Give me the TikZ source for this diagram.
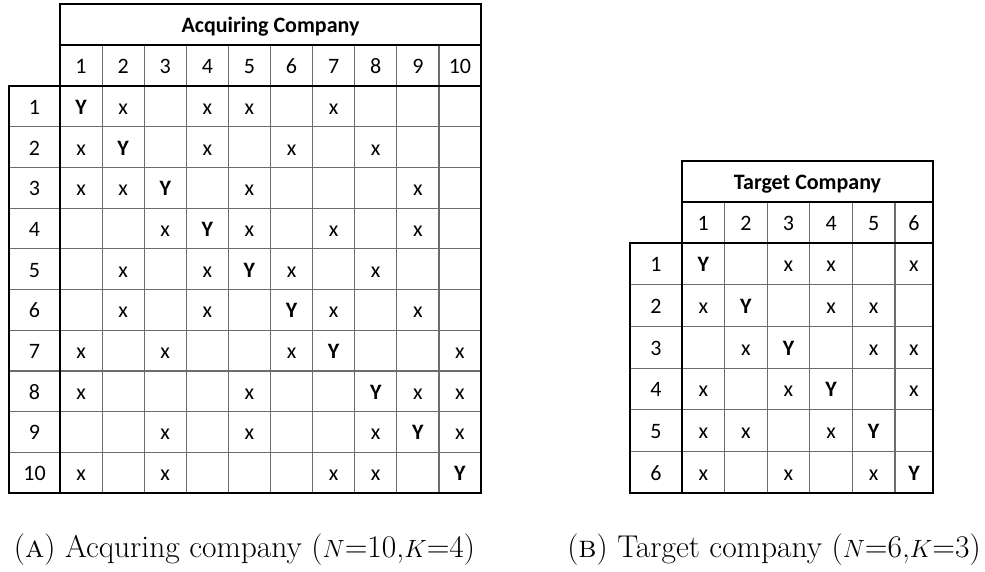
\documentclass[tikz,border=0pt]{standalone}
\usepackage{fontspec}
\newfontfamily\tabfont{Carlito}

\begin{document}
\begin{tikzpicture}[x=1pt,y=-1pt,
    rule/.style={line width=2.2pt,line cap=rect},
    gridline/.style={draw=gray!85!black,line width=1.2pt},
    entry/.style={font=\tabfont\fontsize{22}{22}\selectfont,inner sep=0pt,anchor=base},
    headcell/.style={entry,font=\tabfont\bfseries\fontsize{22}{22}\selectfont},
    ycell/.style={headcell},
    xcell/.style={entry},
    caption/.style={font=\fontsize{31.5}{31.5}\selectfont,inner sep=0pt,anchor=base}]
  \useasboundingbox (0,0) rectangle (985,571);

  % acquiring company, 10 x 10
  \foreach \c in {1,...,9}
    \draw[gridline] ({60+42.1*\c},45) -- ({60+42.1*\c},493);
  \foreach \r in {1,...,9}
    \draw[gridline] (9,{86+40.7*\r}) -- (481,{86+40.7*\r});
  \draw[rule] (60,45) -- (481,45);
  \draw[rule] (60,4) -- (481,4) -- (481,493) -- (9,493) -- (9,86) -- (481,86);
  \draw[rule] (60,4) -- (60,493);

  \node[headcell] (acqtitle) at (270.5,32.5) {Acquiring Company};
  \foreach \c in {1,...,10}
    \node[entry] (acqcol\c) at ({60+42.1*(\c-0.5)},73.5) {\c};
  \foreach \r in {1,...,10}
    \node[entry] (acqrow\r) at (34.5,{86+40.7*(\r-0.5)+8}) {\r};
  \foreach \r/\cols in {1/{2,4,5,7},2/{1,4,6,8},3/{1,2,5,9},4/{3,5,7,9},
      5/{2,4,6,8},6/{2,4,7,9},7/{1,3,6,10},8/{1,5,9,10},9/{3,5,8,10},10/{1,3,7,8}} {
    \node[ycell] (acq\r-\r) at ({60+42.1*(\r-0.5)},{86+40.7*(\r-0.5)+8}) {Y};
    \foreach \c in \cols
      \node[xcell] (acq\r-\c) at ({60+42.1*(\c-0.5)},{86+40.7*(\r-0.5)+8}) {x};
  }

  % target company, 6 x 6
  \foreach \c in {1,...,5}
    \draw[gridline] ({682+42.6*\c},202) -- ({682+42.6*\c},493);
  \foreach \r in {1,...,5}
    \draw[gridline] (630,{243+41.7*\r}) -- (933,{243+41.7*\r});
  \draw[rule] (682,202) -- (933,202);
  \draw[rule] (682,161) -- (933,161) -- (933,493) -- (630,493) -- (630,243) -- (933,243);
  \draw[rule] (682,161) -- (682,493);

  \node[headcell] (tgttitle) at (807.5,189.5) {Target Company};
  \foreach \c/\xc in {1/703.3,2/745.9,3/788.5,4/831.1,5/873.7,6/914}
    \node[entry] (tgtcol\c) at (\xc,230.5) {\c};
  \foreach \r in {1,...,6}
    \node[entry] (tgtrow\r) at (656,{243+41.7*(\r-0.5)+8}) {\r};
  \foreach \r/\cols in {1/{3,4,6},2/{1,4,5},3/{2,5,6},4/{1,3,6},5/{1,2,4},6/{1,3,5}} {
    \node[ycell] (tgt\r-\r) at ({\r==6 ? 914 : 682+42.6*(\r-0.5)},{243+41.7*(\r-0.5)+8}) {Y};
    \foreach \c in \cols
      \node[xcell] (tgt\r-\c) at ({\c==6 ? 914 : 682+42.6*(\c-0.5)},{243+41.7*(\r-0.5)+8}) {x};
  }

  % captions
  \node[caption] (capa) at (244.5,557) {(\textsc{a}) Acquring company ($N$=10,$K$=4)};
  \node[caption] (capb) at (774,557) {(\textsc{b}) Target company ($N$=6,$K$=3)};
\end{tikzpicture}
\end{document}
